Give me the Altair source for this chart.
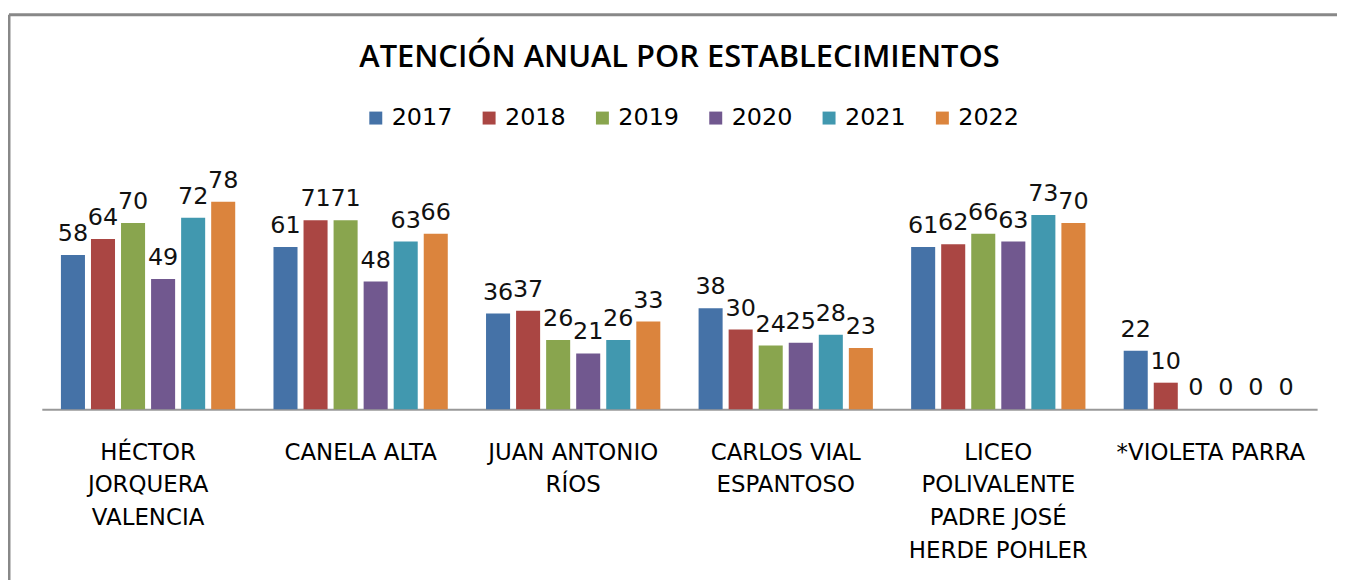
import altair as alt
import pandas as pd

schools = ["HÉCTOR|JORQUERA|VALENCIA", "CANELA ALTA", "JUAN ANTONIO|RÍOS",
           "CARLOS VIAL|ESPANTOSO", "LICEO|POLIVALENTE|PADRE JOSÉ|HERDE POHLER",
           "*VIOLETA PARRA"]
years = ["2017", "2018", "2019", "2020", "2021", "2022"]
v2017 = [58, 61, 36, 38, 61, 22]
v2018 = [64, 71, 37, 30, 62, 10]
v2019 = [70, 71, 26, 24, 66, 0]
v2020 = [49, 48, 21, 25, 63, 0]
v2021 = [72, 63, 26, 28, 73, 0]
v2022 = [78, 66, 33, 23, 70, 0]
colors = ["#4572A7", "#AA4643", "#89A54E", "#71588F", "#4198AF", "#DB843D"]

series = [v2017, v2018, v2019, v2020, v2021, v2022]
rows = []
for yi, yr in enumerate(years):
    for si, s in enumerate(schools):
        rows.append({"school": s, "year": yr, "value": series[yi][si]})
df = pd.DataFrame(rows)

FONT = "DejaVu Sans"

x = alt.X("school:N", sort=schools, title=None,
          scale=alt.Scale(paddingInner=0.18, paddingOuter=0.09),
          axis=alt.Axis(labelExpr="split(datum.label, '|')", labelAngle=0,
                        labelFont=FONT, labelFontSize=23, labelColor="#000",
                        labelLineHeight=33, labelPadding=32, ticks=False,
                        domainColor="#999", domainWidth=2, labelLimit=300))
xo = alt.XOffset("year:N", sort=years, scale=alt.Scale(paddingInner=0.2))
y = alt.Y("value:Q", scale=alt.Scale(domain=[0, 90]), axis=None)

bars = alt.Chart(df).mark_bar().encode(
    x=x, xOffset=xo, y=y,
    color=alt.Color("year:N", sort=years,
                    scale=alt.Scale(domain=years, range=colors),
                    legend=alt.Legend(title=None, orient="none", direction="horizontal",
                                      legendX=324, legendY=-64,
                                      symbolType="square", symbolSize=170,
                                      labelFont=FONT, labelFontSize=24,
                                      labelColor="#000", columnPadding=24,
                                      symbolStrokeWidth=0))
)

labels = alt.Chart(df).mark_text(baseline="bottom", dy=-9, font=FONT,
                                 fontSize=24, color="#111").encode(
    x=x, xOffset=xo, y=y, text="value:Q"
)

border = alt.Chart(pd.DataFrame({"a": [0]})).mark_rule(color="#888", strokeWidth=3).encode(
    x=alt.value(-33), x2=alt.value(1400), y=alt.value(-156)
)
border2 = alt.Chart(pd.DataFrame({"a": [0]})).mark_rule(color="#888", strokeWidth=3).encode(
    x=alt.value(-33), y=alt.value(-156), y2=alt.value(500)
)

chart = alt.layer(border, border2, bars, labels).properties(
    width=1283, height=241,
    title=alt.TitleParams("ATENCIÓN ANUAL POR ESTABLECIMIENTOS", font="Open Sans",
                          fontSize=31, fontWeight=600, color="#000",
                          anchor="middle", offset=-61),
    autosize=alt.AutoSizeParams(type="none"),
    padding={"left": 34, "top": 161, "right": 20, "bottom": 170},
).configure_view(stroke=None)

chart.save("out.html", embed_options={"renderer": "svg", "actions": False})
